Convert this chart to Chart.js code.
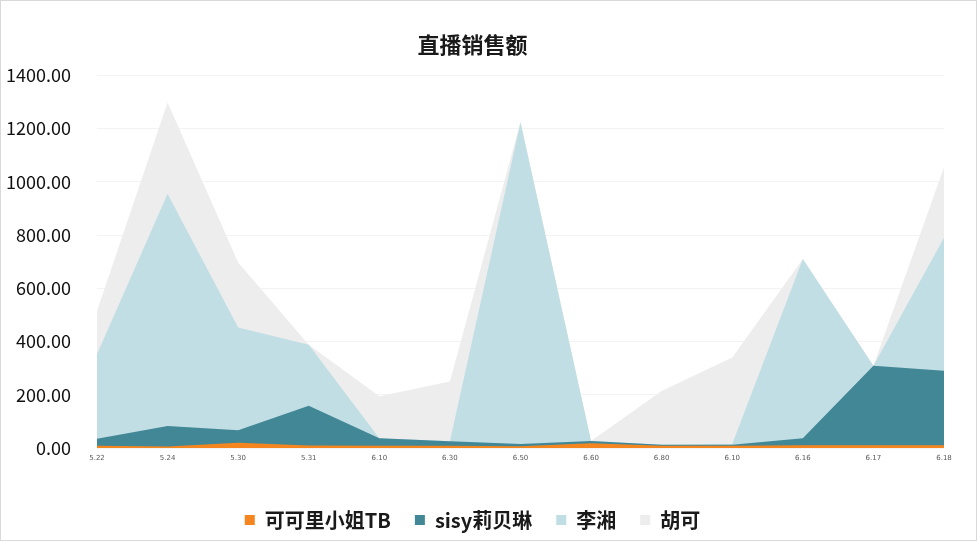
<!DOCTYPE html>
<html>
<head>
<meta charset="utf-8">
<script src="https://cdn.jsdelivr.net/npm/chart.js@4.4.0/dist/chart.umd.min.js"></script>
<style>
html,body{margin:0;padding:0;background:#fff;}
#wrap{position:relative;width:975px;height:539px;border:1px solid #d9d9d9;}
canvas{display:block;}
</style>
</head>
<body>
<div id="wrap"><canvas id="c" width="975" height="539"></canvas></div>
<script>
const categories = ["5.22","5.24","5.30","5.31","6.10","6.30","6.50","6.60","6.80","6.10","6.16","6.17","6.18"];
const seriesNames = ["可可里小姐TB","sisy莉贝琳","李湘","胡可"];
const kekeli = [8, 6, 20, 9, 8, 8, 7, 18, 8, 8, 10, 10, 10];
const sisy = [35, 83, 67, 159, 37, 25, 15, 26, 12, 12, 37, 309, 290];
const lixiang = [352, 955, 453, 388, 37, 25, 1224, 26, 12, 15, 710, 309, 790];
const huke = [515, 1298, 697, 388, 194, 250, 1226, 26, 214, 340, 710, 309, 1055];
const colors = ["#f5861f", "#428796", "#c1dee4", "#ededed"];
const yTicks = [0, 200, 400, 600, 800, 1000, 1200, 1400];

const values = [kekeli, sisy, lixiang, huke];
const datasets = seriesNames.map((n, i) => ({
  label: n,
  data: values[i],
  backgroundColor: colors[i],
  borderColor: colors[i],
  borderWidth: 0,
  pointRadius: 0,
  pointHoverRadius: 0,
  fill: 'origin',
  tension: 0
}));

new Chart(document.getElementById('c'), {
  type: 'line',
  data: { labels: categories, datasets: datasets },
  options: {
    responsive: false,
    animation: false,
    layout: { padding: { left: 0, right: 32, top: 0, bottom: 0 } },
    plugins: {
      title: {
        display: true,
        text: '直播销售额',
        color: '#1a1a1a',
        font: { family: '"Noto Sans CJK SC", sans-serif', size: 22, weight: 'bold' },
        padding: { top: 30, bottom: 18 }
      },
      legend: {
        position: 'bottom',
        labels: {
          boxWidth: 10,
          boxHeight: 10,
          padding: 24,
          color: '#1a1a1a',
          font: { family: '"Noto Sans CJK SC", sans-serif', size: 20, weight: 'bold' }
        }
      },
      tooltip: { enabled: false }
    },
    scales: {
      x: {
        grid: { display: false, drawTicks: false },
        border: { display: false },
        ticks: {
          color: '#595959',
          font: { family: '"DejaVu Sans", sans-serif', size: 7 },
          maxRotation: 0,
          autoSkip: false,
          padding: 6
        },
        afterFit: (s) => { s.height = 38; }
      },
      y: {
        min: 0,
        max: 1400,
        afterBuildTicks: (s) => { s.ticks = yTicks.map(v => ({ value: v })); },
        grid: { color: '#f3f3f3', drawTicks: false, lineWidth: 1 },
        border: { display: false },
        ticks: {
          color: '#111',
          font: { family: '"Noto Sans CJK SC", sans-serif', size: 18 },
          padding: 26,
          callback: (v) => Number(v).toFixed(2)
        },
        afterFit: (s) => { s.width = 96; }
      }
    }
  }
});
</script>
</body>
</html>
